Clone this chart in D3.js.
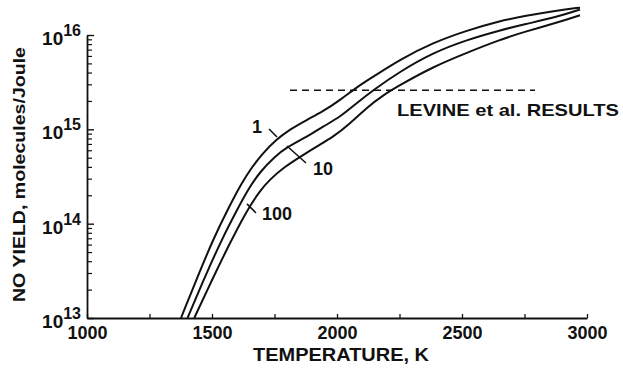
<!DOCTYPE html>
<html>
<head>
<meta charset="utf-8">
<script src="https://cdn.jsdelivr.net/npm/d3@7"></script>
<style>
  body { margin: 0; background: #fff; }
  text { font-family: "Liberation Sans", Arial, Helvetica, sans-serif; fill: #111; }
</style>
</head>
<body>
<svg id="chart"></svg>
<script>
// curve labels (parameter value written next to each curve)
const seriesNames = ["1", "10", "100"];

// temperature (K) and NO yield (molecules/Joule)
const temp1 = [1376, 1439, 1504, 1572, 1619, 1652, 1700, 1760, 1812, 1879, 1944, 2012, 2079, 2144, 2252, 2384, 2520, 2652, 2744, 2880, 2972];
const yield1 = [1.0e13, 2.6e13, 6.8e13, 1.58e14, 2.7e14, 3.7e14, 5.5e14, 7.9e14, 1.0e15, 1.26e15, 1.55e15, 2.04e15, 2.8e15, 3.6e15, 5.5e15, 8.3e15, 1.12e16, 1.41e16, 1.58e16, 1.82e16, 1.95e16];

const temp10 = [1402, 1472, 1539, 1599, 1644, 1692, 1750, 1800, 1879, 1944, 2012, 2079, 2144, 2252, 2384, 2520, 2652, 2744, 2880, 2972];
const yield10 = [1.0e13, 2.75e13, 6.8e13, 1.38e14, 2.3e14, 3.55e14, 5.1e14, 6.5e14, 8.3e14, 1.07e15, 1.35e15, 1.9e15, 2.6e15, 4.1e15, 6.5e15, 8.9e15, 1.12e16, 1.29e16, 1.55e16, 1.86e16];

const temp100 = [1429, 1499, 1565, 1639, 1692, 1732, 1790, 1852, 1919, 1984, 2052, 2119, 2184, 2252, 2384, 2520, 2652, 2744, 2880, 2972];
const yield100 = [1.0e13, 2.5e13, 5.75e13, 1.38e14, 2.24e14, 2.95e14, 4.0e14, 5.1e14, 6.6e14, 8.3e14, 1.15e15, 1.7e15, 2.3e15, 2.95e15, 4.6e15, 6.5e15, 8.9e15, 1.07e16, 1.35e16, 1.62e16];

// leader lines from curve to its label, [temp, yield] at both ends
const leaderStart = [[1728, 1.01e15], [1800, 6.65e14], [1640, 1.62e14]];
const leaderEnd = [[1760, 8.3e14], [1876, 4.4e14], [1676, 1.3e14]];

// Levine et al. result (dashed line)
const levineYield = 2.6e15;
const levineTemps = [1812, 2792];
const levineLabel = "LEVINE et al. RESULTS";

// axes
const xTicks = d3.range(1000, 3001, 250);
const xLabels = [1000, 1500, 2000, 2500, 3000];
const yDecades = [13, 14, 15, 16];

const width = 623;
const height = 370;
const margin = { top: 35, right: 36, bottom: 52, left: 87 };

const svg = d3.select("#chart")
  .attr("width", width)
  .attr("height", height);

const x = d3.scaleLinear()
  .domain([1000, 3000])
  .range([margin.left, width - margin.right]);

const y = d3.scaleLog()
  .domain([1e13, 1e16])
  .range([height - margin.bottom, margin.top]);

const ink = "#111";

// X axis, ticks pointing up into the plot
const xAxis = svg.append("g")
  .attr("transform", `translate(0,${y(1e13)})`)
  .call(d3.axisBottom(x)
    .tickValues(xTicks)
    .tickSize(-4)
    .tickSizeOuter(0)
    .tickPadding(8)
    .tickFormat(d => xLabels.includes(d) ? d : ""));
xAxis.select(".domain").attr("stroke", ink).attr("stroke-width", 1.8);
xAxis.selectAll(".tick line").attr("stroke", ink).attr("stroke-width", 1.3);
xAxis.selectAll(".tick text")
  .attr("fill", ink)
  .style("font-size", "18px")
  .style("font-weight", "bold");

// Y axis, log minor ticks
const minorVals = [];
yDecades.slice(0, -1).forEach(e => {
  for (let k = 2; k <= 9; k++) minorVals.push(k * Math.pow(10, e));
});

const yAxis = svg.append("g")
  .attr("transform", `translate(${x(1000)},0)`)
  .call(d3.axisLeft(y)
    .tickValues(minorVals)
    .tickSize(-5)
    .tickSizeOuter(0)
    .tickFormat(""));
yAxis.select(".domain").attr("stroke", ink).attr("stroke-width", 1.8);
yAxis.selectAll(".tick line").attr("stroke", ink).attr("stroke-width", 1.2);

const yMajor = svg.append("g")
  .attr("transform", `translate(${x(1000)},0)`)
  .call(d3.axisLeft(y)
    .tickValues(yDecades.map(e => Math.pow(10, e)))
    .tickSize(-7)
    .tickSizeOuter(0)
    .tickFormat(""));
yMajor.select(".domain").remove();
yMajor.selectAll(".tick line").attr("stroke", ink).attr("stroke-width", 1.4);

// decade labels as 10 with superscript exponent
const yLab = svg.append("g")
  .selectAll("text")
  .data(yDecades)
  .enter()
  .append("text")
  .attr("x", x(1000) - 6)
  .attr("y", d => y(Math.pow(10, d)) + 10)
  .attr("text-anchor", "end")
  .style("font-size", "19px")
  .style("font-weight", "bold");
yLab.append("tspan").text("10");
yLab.append("tspan")
  .attr("dy", -9)
  .style("font-size", "16px")
  .text(d => d);

// axis titles
svg.append("text")
  .attr("x", (x(1000) + x(3000)) / 2 + 4)
  .attr("y", 361)
  .attr("text-anchor", "middle")
  .attr("textLength", 176)
  .attr("lengthAdjust", "spacingAndGlyphs")
  .style("font-size", "19px")
  .style("font-weight", "bold")
  .text("TEMPERATURE, K");

svg.append("text")
  .attr("transform", `translate(25,${(y(1e13) + y(1e16)) / 2 - 2}) rotate(-90)`)
  .attr("text-anchor", "middle")
  .attr("textLength", 255)
  .attr("lengthAdjust", "spacingAndGlyphs")
  .style("font-size", "17px")
  .style("font-weight", "bold")
  .text("NO YIELD, molecules/Joule");

// curves
const series = [
  { name: seriesNames[0], temps: temp1, vals: yield1 },
  { name: seriesNames[1], temps: temp10, vals: yield10 },
  { name: seriesNames[2], temps: temp100, vals: yield100 }
];

const line = d3.line()
  .x(d => x(d[0]))
  .y(d => y(d[1]))
  .curve(d3.curveBasis);

svg.append("g")
  .selectAll("path")
  .data(series)
  .enter()
  .append("path")
  .attr("d", d => line(d.temps.map((t, i) => [t, d.vals[i]])))
  .attr("fill", "none")
  .attr("stroke", ink)
  .attr("stroke-width", 2);

// leader lines and curve labels
// label "1" sits up-left of the leader start, the others past the leader end
const labelShift = [[-11, 4], [7, 12], [6, 7]];
const labelAnchors = ["end", "start", "start"];

series.forEach((s, i) => {
  svg.append("line")
    .attr("x1", x(leaderStart[i][0]))
    .attr("y1", y(leaderStart[i][1]))
    .attr("x2", x(leaderEnd[i][0]))
    .attr("y2", y(leaderEnd[i][1]))
    .attr("stroke", ink)
    .attr("stroke-width", 1.5);

  const p = i === 0 ? leaderStart[i] : leaderEnd[i];
  svg.append("text")
    .attr("x", x(p[0]) + labelShift[i][0] + (i === 0 ? 4 : 0))
    .attr("y", y(p[1]) + labelShift[i][1])
    .attr("text-anchor", labelAnchors[i])
    .style("font-size", "18px")
    .style("font-weight", "bold")
    .text(s.name);
});

// Levine et al. dashed line and label
svg.append("line")
  .attr("x1", x(levineTemps[0]))
  .attr("x2", x(levineTemps[1]))
  .attr("y1", y(levineYield))
  .attr("y2", y(levineYield))
  .attr("stroke", ink)
  .attr("stroke-width", 1.4)
  .attr("stroke-dasharray", "7,5");

svg.append("text")
  .attr("x", 397)
  .attr("y", y(levineYield) + 26)
  .attr("textLength", 222)
  .attr("lengthAdjust", "spacingAndGlyphs")
  .style("font-size", "17px")
  .style("font-weight", "bold")
  .text(levineLabel);
</script>
</body>
</html>
